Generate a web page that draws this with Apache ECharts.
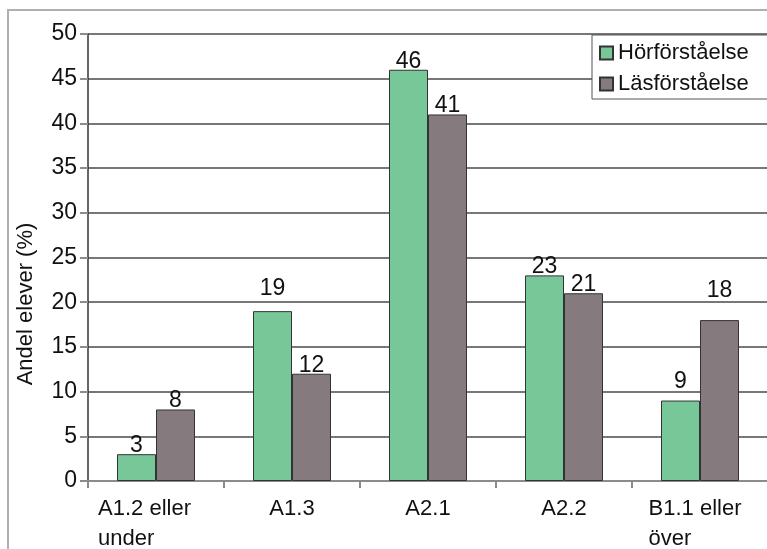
<!DOCTYPE html>
<html>
<head>
<meta charset="utf-8">
<script src="https://cdn.jsdelivr.net/npm/echarts@6/dist/echarts.min.js"></script>
<style>
  html, body { margin: 0; padding: 0; background: #fff; }
  #chart { width: 767px; height: 549px; }
</style>
</head>
<body>
<div id="chart"></div>
<script>
// Proficiency levels (CEFR) and share of pupils per level, in percent
const categories = ['A1.2 eller\nunder', 'A1.3', 'A2.1', 'A2.2', 'B1.1 eller\növer'];
const seriesNames = ['Hörförståelse', 'Läsförståelse'];
const listening = [3, 19, 46, 23, 9];
const reading = [8, 12, 41, 21, 18];
const yTicks = { min: 0, max: 50, interval: 5 };

// extra lift (px) for value labels that sit clear of a grid line
const listeningLabelLift = [0, 14, 0, 0, 10];
const readingLabelLift = [0, 0, 0, 0, 21];
// shift of two-line category labels (right padding, px)
const categoryShift = [23, 0, 0, 0, 10];

const FONT = '"Liberation Sans", Arial, sans-serif';
const FS = 22;       // text
const FS_NUM = 23;   // numbers
const baseDistance = -3;

function barData(values, lift) {
  return values.map((v, i) => ({ value: v, label: { distance: baseDistance + lift[i] } }));
}

const chart = echarts.init(document.getElementById('chart'), null, { renderer: 'canvas' });

chart.setOption({
  animation: false,
  backgroundColor: '#fff',
  textStyle: { fontFamily: FONT },
  grid: { left: 88, right: -1, top: 34, bottom: 68, containLabel: false, outerBoundsMode: 'none' },
  legend: {
    data: seriesNames,
    orient: 'vertical',
    left: 592,
    top: 35,
    padding: [5, 40, 2, 7],
    itemGap: 5,
    itemWidth: 13,
    itemHeight: 13,
    itemTextGap: 8,
    icon: 'rect',
    backgroundColor: '#fff',
    borderColor: '#555',
    borderWidth: 1,
    borderRadius: 0,
    textStyle: { fontFamily: FONT, fontSize: FS, lineHeight: 26, color: '#111' }
  },
  xAxis: {
    type: 'category',
    data: categories.map((c, i) => ({
      value: c,
      textStyle: { padding: [0, categoryShift[i], 0, 0] }
    })),
    axisLine: { lineStyle: { color: '#8c8c8c', width: 2 } },
    axisTick: { show: true, length: 7, lineStyle: { color: '#8c8c8c', width: 2 } },
    axisLabel: {
      interval: 0,
      margin: 13,
      fontFamily: FONT,
      fontSize: FS,
      lineHeight: 30,
      color: '#111',
      formatter: (v) => v.split('\n').map(s => '{l|' + s + '}').join('\n'),
      rich: { l: { align: 'left', fontFamily: FONT, fontSize: FS, lineHeight: 30, color: '#111' } }
    },
    splitLine: { show: false }
  },
  yAxis: {
    type: 'value',
    min: yTicks.min,
    max: yTicks.max,
    interval: yTicks.interval,
    axisLine: { show: true, lineStyle: { color: '#333', width: 1.5 } },
    axisTick: { show: true, length: 8, lineStyle: { color: '#8c8c8c', width: 2 } },
    axisLabel: { margin: 11, fontFamily: FONT, fontSize: FS_NUM, color: '#111' },
    splitLine: { show: true, lineStyle: { color: '#4a4a4a', width: 1.5 } }
  },
  series: [
    {
      name: seriesNames[0],
      type: 'bar',
      barWidth: 39,
      barGap: '0%',
      data: barData(listening, listeningLabelLift),
      itemStyle: { color: '#78C799', borderColor: '#333', borderWidth: 1 },
      label: { show: true, position: 'top', fontFamily: FONT, fontSize: FS_NUM, color: '#111' }
    },
    {
      name: seriesNames[1],
      type: 'bar',
      barWidth: 39,
      barGap: '0%',
      data: barData(reading, readingLabelLift),
      itemStyle: { color: '#857A7E', borderColor: '#333', borderWidth: 1 },
      label: { show: true, position: 'top', fontFamily: FONT, fontSize: FS_NUM, color: '#111' }
    }
  ],
  graphic: [
    {
      type: 'rect',
      z: -10,
      silent: true,
      shape: { x: 8, y: 10, width: 900, height: 700 },
      style: { fill: 'none', stroke: '#b0b0b0', lineWidth: 2 }
    },
    {
      type: 'text',
      x: 26,
      y: 304,
      rotation: Math.PI / 2,
      silent: true,
      style: {
        text: 'Andel elever (%)',
        fontFamily: FONT,
        fontSize: FS,
        fill: '#111',
        align: 'center',
        verticalAlign: 'middle'
      }
    }
  ]
});
</script>
</body>
</html>
